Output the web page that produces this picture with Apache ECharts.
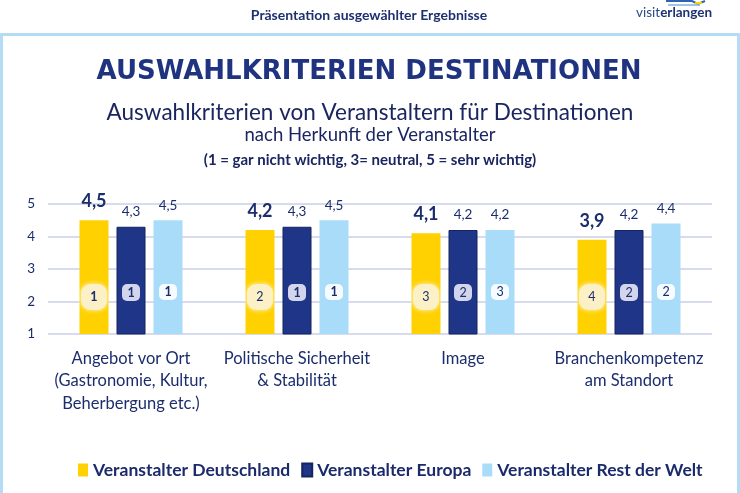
<!DOCTYPE html>
<html>
<head>
<meta charset="utf-8">
<script src="https://cdn.jsdelivr.net/npm/echarts@6/dist/echarts.min.js"></script>
<style>
  html, body { margin: 0; padding: 0; background: #fff; }
  #chart { width: 740px; height: 493px; }
</style>
</head>
<body>
<div id="chart"></div>
<script>
// Daten aus der Grafik
const categories = [
    'Angebot vor Ort\n(Gastronomie, Kultur,\nBeherbergung etc.)',
    'Politische Sicherheit\n& Stabilität',
    'Image',
    'Branchenkompetenz\nam Standort'
];
const seriesNames = ['Veranstalter Deutschland', 'Veranstalter Europa', 'Veranstalter Rest der Welt'];
const valuesDeutschland = [4.5, 4.2, 4.1, 3.9];
const valuesEuropa = [4.3, 4.3, 4.2, 4.2];
const valuesRestWelt = [4.5, 4.5, 4.2, 4.4];
const rankDeutschland = [1, 2, 3, 4];
const rankEuropa = [1, 1, 2, 2];
const rankRestWelt = [1, 1, 3, 2];
const yTicks = [1, 2, 3, 4, 5];

const NAVY = '#1c2d6e';
const colors = ['#ffd100', '#1f3587', '#a9dcf8'];
const badgeBg = ['#fcf0c6', '#d3d5ec', '#f6fbff'];
const badgeSize = [[26, 26], [18, 17], [18, 16]];
const FONT = 'Lato, "Noto Sans", sans-serif';

const chart = echarts.init(document.getElementById('chart'));

const fmt = v => String(v).replace('.', ',');

function valueSeries(idx, values) {
    const big = idx === 0;
    return {
        name: seriesNames[idx],
        type: 'bar',
        xAxisIndex: 0,
        yAxisIndex: 0,
        barWidth: 29,
        barGap: '27.6%',
        data: values,
        itemStyle: {
            color: colors[idx],
            borderColor: idx === 1 ? '#15255f' : colors[idx],
            borderWidth: idx === 1 ? 1 : 0
        },
        label: {
            show: true,
            position: 'top',
            distance: big ? 10 : 8,
            formatter: p => fmt(p.value),
            color: NAVY,
            fontFamily: FONT,
            fontSize: big ? 18 : 13.5,
            fontWeight: big ? 'bold' : 'normal'
        },
        emphasis: { disabled: true }
    };
}

// Rang-Plaketten in den Balken (transparente Überlagerung)
function rankSeries(idx, values, ranks) {
    const [w, h] = badgeSize[idx];
    return {
        name: 'rank' + idx,
        type: 'bar',
        xAxisIndex: 1,
        yAxisIndex: 1,
        barWidth: 29,
        barGap: '27.6%',
        z: 5,
        data: values.map((v, i) => ({
            value: v,
            label: { fontWeight: ranks[i] === 1 ? 'bold' : 'normal' }
        })),
        itemStyle: { color: 'rgba(0,0,0,0)' },
        label: {
            show: true,
            position: 'insideBottom',
            distance: 50 - h / 2,
            formatter: p => String(ranks[p.dataIndex]),
            color: NAVY,
            fontFamily: FONT,
            fontSize: 12.5,
            width: w,
            height: h,
            lineHeight: h,
            align: 'center',
            verticalAlign: 'middle',
            backgroundColor: badgeBg[idx],
            borderRadius: idx === 0 ? 9 : 5,
            shadowColor: idx === 0 ? 'rgba(255,250,230,0.9)' : 'transparent',
            shadowBlur: idx === 0 ? 5 : 0
        },
        emphasis: { disabled: true },
        tooltip: { show: false }
    };
}

const option = {
    animation: false,
    textStyle: { fontFamily: FONT },
    color: colors,
    grid: { left: 48, right: 28, top: 204, bottom: 159 },
    legend: {
        data: seriesNames,
        left: 73,
        top: 456,
        icon: 'rect',
        itemWidth: 10,
        itemHeight: 13,
        itemGap: 11,
        textStyle: { color: '#1b2a6b', fontFamily: FONT, fontWeight: 'bold', fontSize: 17.5 }
    },
    xAxis: [{
        type: 'category',
        data: categories,
        axisLine: { show: false },
        axisTick: { show: false },
        axisLabel: {
            interval: 0,
            margin: 13,
            color: NAVY,
            fontFamily: FONT,
            fontSize: 16.5,
            lineHeight: 22.5,
            verticalAlign: 'top'
        }
    }, {
        type: 'category',
        data: categories,
        show: false
    }],
    yAxis: [{
        type: 'value',
        min: yTicks[0],
        max: yTicks[yTicks.length - 1],
        interval: 1,
        axisLine: { show: false },
        axisTick: { show: false },
        axisLabel: { color: NAVY, fontFamily: FONT, fontSize: 13.5, margin: 13 },
        splitLine: { lineStyle: { color: '#d8daee', width: 2 } }
    }, {
        type: 'value',
        min: yTicks[0],
        max: yTicks[yTicks.length - 1],
        show: false
    }],
    series: [
        valueSeries(0, valuesDeutschland),
        valueSeries(1, valuesEuropa),
        valueSeries(2, valuesRestWelt),
        rankSeries(0, valuesDeutschland, rankDeutschland),
        rankSeries(1, valuesEuropa, rankEuropa),
        rankSeries(2, valuesRestWelt, rankRestWelt)
    ],
    graphic: [
        // Rahmen
        {
            type: 'rect', silent: true, z: -1,
            shape: { x: 1.5, y: 34.5, width: 737, height: 470 },
            style: { fill: 'none', stroke: '#b5dcf5', lineWidth: 3 }
        },
        // Kopfzeile
        {
            type: 'text', x: 369, y: 15,
            style: {
                text: 'Präsentation ausgewählter Ergebnisse',
                align: 'center', verticalAlign: 'middle',
                fill: '#1d3170', font: 'bold 14px ' + FONT
            }
        },
        // Logo
        {
            type: 'polyline', silent: true,
            shape: { points: [[666, 1], [692, 1], [698, 4], [705, 1]] },
            style: { stroke: '#2f63b0', lineWidth: 2, fill: 'none' }
        },
        {
            type: 'polyline', silent: true,
            shape: { points: [[668, 5], [700, 5]] },
            style: { stroke: '#7fb3e0', lineWidth: 1.5, fill: 'none' }
        },
        {
            type: 'line', silent: true,
            shape: { x1: 695, y1: 3, x2: 702, y2: 3 },
            style: { stroke: '#ffd100', lineWidth: 2 }
        },
        {
            type: 'text', x: 636, y: 13,
            style: {
                text: '{a|visit}{b|erlangen}',
                verticalAlign: 'middle',
                rich: {
                    a: { fill: '#2a4a8a', fontSize: 13.5, fontFamily: FONT },
                    b: { fill: '#1d3170', fontSize: 13.5, fontFamily: FONT, fontWeight: 'bold' }
                }
            }
        },
        // Titel
        {
            type: 'text', x: 369, y: 72,
            style: {
                text: 'AUSWAHLKRITERIEN DESTINATIONEN',
                align: 'center', verticalAlign: 'middle',
                fill: '#1f3380', font: 'bold 26px "DejaVu Sans", sans-serif'
            }
        },
        {
            type: 'text', x: 370, y: 113,
            style: {
                text: 'Auswahlkriterien von Veranstaltern für Destinationen',
                align: 'center', verticalAlign: 'middle',
                fill: '#1b2560', font: '22.5px ' + FONT
            }
        },
        {
            type: 'text', x: 370, y: 135,
            style: {
                text: 'nach Herkunft der Veranstalter',
                align: 'center', verticalAlign: 'middle',
                fill: '#1b2560', font: '18.5px ' + FONT
            }
        },
        {
            type: 'text', x: 370, y: 160,
            style: {
                text: '(1 = gar nicht wichtig, 3= neutral, 5 = sehr wichtig)',
                align: 'center', verticalAlign: 'middle',
                fill: '#1b2560', font: 'bold 15px ' + FONT
            }
        }
    ]
};

chart.setOption(option);

window.addEventListener('resize', function() {
    chart.resize();
});
</script>
</body>
</html>
